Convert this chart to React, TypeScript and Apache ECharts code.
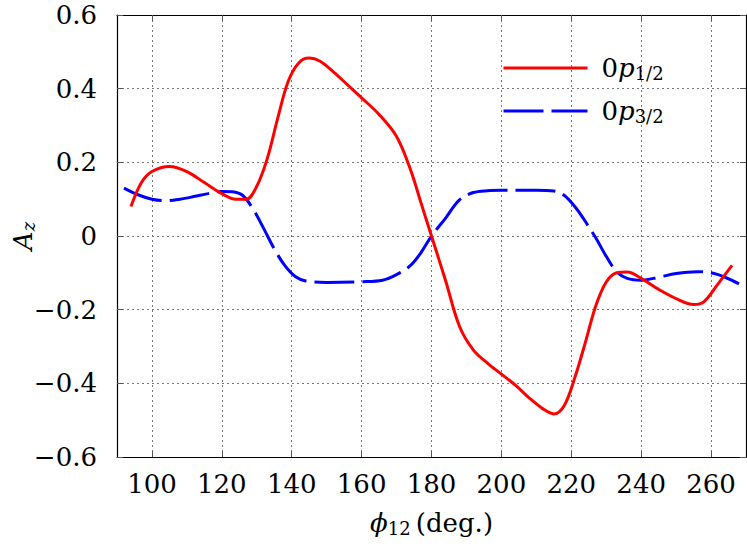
import React, { useEffect, useRef } from "react";
import * as echarts from "echarts";

const xTickValues = [100, 120, 140, 160, 180, 200, 220, 240, 260];

const redX = [94, 97, 100, 105, 110, 115, 120, 124, 127, 130, 133, 136, 139, 142, 145, 148, 152, 156, 160, 165, 170, 174, 177, 180, 184, 188, 192, 196, 200, 204, 208, 212, 215, 218, 221, 224, 227, 230, 233, 236, 240, 245, 250, 255, 258, 262, 266];
const redY = [0.08, 0.145, 0.175, 0.189, 0.175, 0.145, 0.115, 0.1, 0.1, 0.135, 0.21, 0.32, 0.42, 0.47, 0.483, 0.475, 0.445, 0.41, 0.375, 0.33, 0.27, 0.18, 0.09, 0.0, -0.12, -0.245, -0.31, -0.345, -0.375, -0.405, -0.44, -0.47, -0.483, -0.46, -0.385, -0.29, -0.19, -0.125, -0.1, -0.098, -0.115, -0.145, -0.17, -0.186, -0.178, -0.13, -0.08];

const blueX = [92, 96, 100, 104, 108, 112, 116, 120, 123, 126, 129, 132, 135, 138, 141, 144, 150, 160, 166, 170, 174, 177, 180, 184, 188, 192, 196, 200, 210, 215, 218, 221, 224, 227, 230, 233, 236, 240, 245, 250, 256, 260, 264, 268];
const blueY = [0.13, 0.112, 0.1, 0.096, 0.1, 0.107, 0.115, 0.121, 0.12, 0.11, 0.072, 0.02, -0.035, -0.08, -0.11, -0.122, -0.126, -0.124, -0.12, -0.105, -0.08, -0.045, 0, 0.048, 0.098, 0.118, 0.123, 0.124, 0.124, 0.122, 0.11, 0.08, 0.04, -0.005, -0.055, -0.097, -0.115, -0.12, -0.112, -0.102, -0.097, -0.1, -0.112, -0.13];

const seriesNames = ["0p1/2", "0p3/2"];
const legendRich: Record<string, string> = {
  "0p1/2": "{n|0}{i|p}{s|1/2}",
  "0p3/2": "{n|0}{i|p}{s|3/2}",
};

const FONT = "'DejaVu Serif', 'Liberation Serif', serif";
const FS = 26;
const SUB = 18;
const RED = "#ff0000";
const BLUE = "#0000ff";
const DASH = [40, 8];

function zip(xs: number[], ys: number[]) {
  return xs.map((x, i) => [x, ys[i]]);
}

export default function App() {
  const ref = useRef<HTMLDivElement>(null);
  useEffect(() => {
    if (!ref.current) return;
    const chart = echarts.init(ref.current, null, { renderer: "svg" });
    const gridLine = { show: true, lineStyle: { color: "#777", type: [2, 3] as any, width: 1 } };
    const fmtY = (v: number) => {
      const r = Math.round(v * 10) / 10;
      if (Math.abs(r) < 1e-9) return "0";
      return (r < 0 ? "\u2212" : "") + Math.abs(r).toFixed(1);
    };
    const axisLine = { show: true, onZero: false, lineStyle: { color: "#000", width: 1.2 } };
    const tick = { show: true, inside: true, length: 6, lineStyle: { color: "#555" } };
    chart.setOption({
      animation: false,
      grid: { left: 117, top: 15, width: 629, height: 442, containLabel: false, outerBoundsMode: "none" },
      xAxis: [
        {
          type: "value",
          min: 90,
          max: 270,
          position: "bottom",
          axisLine,
          axisTick: { ...tick, customValues: xTickValues },
          axisLabel: {
            customValues: xTickValues,
            margin: 14,
            color: "#000",
            fontFamily: FONT,
            fontSize: FS,
          },
          splitLine: gridLine,
          name: "{i|\u03D5}{s|12}{n|\u2009(deg.)}",
          nameLocation: "middle",
          nameGap: 52,
          nameMoveOverlap: false,
          nameTextStyle: {
            color: "#000",
            fontFamily: FONT,
            fontSize: FS,
            rich: {
              i: { fontFamily: FONT, fontSize: FS, fontStyle: "italic", color: "#000" },
              s: { fontFamily: FONT, fontSize: SUB, color: "#000", padding: [10, 0, 0, 0] },
              n: { fontFamily: FONT, fontSize: FS, color: "#000" },
            },
          },
        },
        {
          type: "value",
          min: 90,
          max: 270,
          position: "top",
          axisLine,
          axisTick: { ...tick, customValues: xTickValues },
          axisLabel: { show: false },
          splitLine: { show: false },
        },
      ],
      yAxis: [
        {
          type: "value",
          min: -0.6,
          max: 0.6,
          interval: 0.2,
          position: "left",
          axisLine,
          axisTick: tick,
          axisLabel: {
            formatter: fmtY,
            margin: 20,
            color: "#000",
            fontFamily: FONT,
            fontSize: FS,
          },
          splitLine: gridLine,
          name: "{i|A}{s|z}",
          nameLocation: "middle",
          nameGap: 80,
          nameMoveOverlap: false,
          nameRotate: 90,
          nameTextStyle: {
            color: "#000",
            fontFamily: FONT,
            fontSize: FS,
            rich: {
              i: { fontFamily: FONT, fontSize: FS, fontStyle: "italic", color: "#000" },
              s: { fontFamily: FONT, fontSize: SUB, fontStyle: "italic", color: "#000", padding: [10, 0, 0, 0] },
            },
          },
        },
        {
          type: "value",
          min: -0.6,
          max: 0.6,
          interval: 0.2,
          position: "right",
          axisLine,
          axisTick: tick,
          axisLabel: { show: false },
          splitLine: { show: false },
        },
      ],
      legend: {
        orient: "vertical",
        left: 502,
        top: 53,
        padding: 0,
        itemWidth: 84,
        itemHeight: 20,
        itemGap: 13,
        data: [
          { name: seriesNames[0], itemStyle: { opacity: 0 }, lineStyle: { color: RED, width: 3, type: "solid" } },
          { name: seriesNames[1], itemStyle: { opacity: 0 }, lineStyle: { color: BLUE, width: 3, type: DASH as any } },
        ],
        formatter: (name: string) => legendRich[name],
        textStyle: {
          color: "#000",
          fontFamily: FONT,
          fontSize: FS,
          lineHeight: 30,
          rich: {
            n: { fontFamily: FONT, fontSize: FS, color: "#000", padding: [0, 0, 0, 9] },
            i: { fontFamily: FONT, fontSize: FS, fontStyle: "italic", color: "#000" },
            s: { fontFamily: FONT, fontSize: SUB, color: "#000", padding: [10, 0, 0, 0] },
          },
        },
      },
      series: [
        {
          name: seriesNames[0],
          type: "line",
          data: zip(redX, redY),
          smooth: 0.35,
          showSymbol: false,
          symbol: "none",
          lineStyle: { color: RED, width: 3 },
          itemStyle: { color: RED },
          z: 3,
        },
        {
          name: seriesNames[1],
          type: "line",
          data: zip(blueX, blueY),
          smooth: 0.35,
          showSymbol: false,
          symbol: "none",
          lineStyle: { color: BLUE, width: 3, type: DASH as any },
          itemStyle: { color: BLUE },
          z: 2,
        },
      ],
    });
    return () => chart.dispose();
  }, []);
  return (
    <div
      ref={ref}
      style={{ position: "absolute", left: 0, top: 0, width: 747, height: 546, background: "#fff" }}
    />
  );
}
